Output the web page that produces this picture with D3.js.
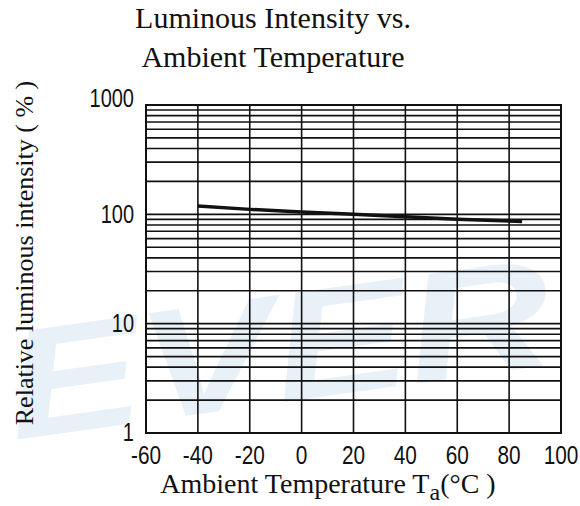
<!DOCTYPE html>
<html>
<head>
<meta charset="utf-8">
<script src="https://cdn.jsdelivr.net/npm/d3@7"></script>
<style>
  body { margin: 0; background: #fff; }
  svg text { fill: #111; }
</style>
</head>
<body>
<div id="drawing-area" style="width:580px;height:506px"></div>
<script>
// values
var temps = [-40, -20, 0, 20, 40, 60, 85];
var intensity = [119, 111, 105, 100, 95, 90, 86];
var xTicks = [-60, -40, -20, 0, 20, 40, 60, 80, 100];
var yTicks = [1, 10, 100, 1000];
var titleLines = ["Luminous Intensity vs.", "Ambient Temperature"];

var sx = 580, sy = 506;
var svg = d3.select('#drawing-area').append('svg').attr('width', sx).attr('height', sy);

var x = d3.scaleLinear().domain([-60, 100]).range([146, 561]);
var y = d3.scaleLog().domain([1, 1000]).range([433, 105]);

// watermark behind everything
svg.append("text")
    .attr("transform", "translate(14,440) rotate(-8) scale(1.3,1)")
    .attr("font-family", "Liberation Sans, sans-serif")
    .attr("font-weight", "bold")
    .attr("font-style", "italic")
    .attr("font-size", 155)
    .style("fill", "#e8f0f8")
    .text("EVER");

// minor log grid: 1..9 in each decade
var grid = [];
for (var d = 1; d < 1000; d *= 10)
    for (var k = 1; k < 10; k++)
        grid.push(d * k);
grid.push(1000);

svg.append("g").selectAll("line.h")
    .data(grid).enter().append("line")
    .attr("x1", x(-60)).attr("x2", x(100))
    .attr("y1", function (v) { return y(v); })
    .attr("y2", function (v) { return y(v); })
    .attr("stroke", "#111").attr("stroke-width", 1.6);

svg.append("g").selectAll("line.v")
    .data(xTicks).enter().append("line")
    .attr("x1", function (t) { return x(t); })
    .attr("x2", function (t) { return x(t); })
    .attr("y1", y(1000)).attr("y2", y(1))
    .attr("stroke", "#111").attr("stroke-width", 1.6);

svg.append("rect")
    .attr("x", x(-60)).attr("y", y(1000))
    .attr("width", x(100) - x(-60)).attr("height", y(1) - y(1000))
    .attr("fill", "none").attr("stroke", "#111").attr("stroke-width", 2);

// the curve
var line = d3.line()
    .x(function (d, i) { return x(temps[i]); })
    .y(function (d) { return y(d); });
svg.append("path")
    .datum(intensity)
    .attr("d", line)
    .attr("fill", "none").attr("stroke", "#111").attr("stroke-width", 3.5);

// tick labels, narrowed to look condensed
var tickFont = "Liberation Sans, Arial, sans-serif";
svg.append("g").selectAll("text")
    .data(yTicks).enter().append("text")
    .attr("transform", function (v) {
        return "translate(134," + (y(v) + (v == 1000 ? -6 : 0)) + ") scale(0.8,1)";
    })
    .attr("text-anchor", "end")
    .attr("dominant-baseline", "central")
    .attr("font-family", tickFont).attr("font-size", 25)
    .text(function (v) { return v; });

svg.append("g").selectAll("text")
    .data(xTicks).enter().append("text")
    .attr("transform", function (t) {
        return "translate(" + x(t) + ",464) scale(0.8,1)";
    })
    .attr("text-anchor", "middle")
    .attr("font-family", tickFont).attr("font-size", 26)
    .text(function (t) { return t; });

// titles
var serif = "Liberation Serif, Times New Roman, serif";
svg.append("g").selectAll("text")
    .data(titleLines).enter().append("text")
    .attr("x", 273)
    .attr("y", function (t, i) { return 28 + i * 39; })
    .attr("text-anchor", "middle")
    .attr("font-family", serif).attr("font-size", 30)
    .text(function (t) { return t; });

var xt = svg.append("text")
    .attr("x", 328).attr("y", 493)
    .attr("text-anchor", "middle")
    .attr("font-family", serif).attr("font-size", 28);
xt.append("tspan").text("Ambient Temperature T");
xt.append("tspan").attr("dy", 7).attr("font-size", 24).text("a");
xt.append("tspan").attr("dy", -7).text("(°C )");

svg.append("text")
    .attr("transform", "translate(33,253) rotate(-90)")
    .attr("text-anchor", "middle")
    .attr("font-family", serif).attr("font-size", 26)
    .text("Relative luminous intensity ( % )");
</script>
</body>
</html>
